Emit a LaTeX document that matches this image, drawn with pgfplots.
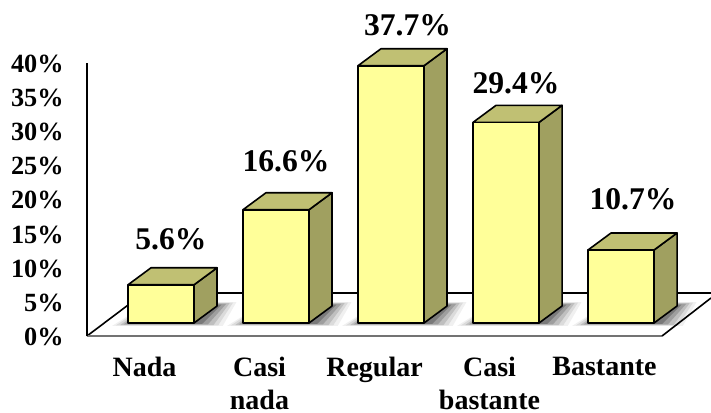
\documentclass[border=0pt]{standalone}
\usepackage{pgfplots}
\pgfplotsset{compat=1.18}
\usepackage{fontspec}
\setmainfont{Liberation Serif}
\definecolor{barfront}{HTML}{FFFF99}
\definecolor{bartop}{HTML}{C0C073}
\definecolor{barside}{HTML}{A0A060}
\pgfplotsset{barpart/.style={xshift=12.4pt,yshift=9.75pt,draw=black,line width=1.2pt,line join=round}}
\begin{document}
\begin{tikzpicture}
\path[use as bounding box] (-65.25pt,-57pt) rectangle (468pt,252pt);
\begin{axis}[
  scale only axis, width=468pt, height=204.75pt,
  xmin=-0.5, xmax=4.926, ymin=0, ymax=40,
  axis lines=left,
  axis line style={-,line width=1.4pt,black},
  x axis line style={draw=none},
  clip=false,
  major tick length=0pt,
  xtick={0,1,2,3,4},
  xticklabels={Nada,{Casi\\nada},Regular,{Casi\\bastante},Bastante},
  x tick label style={font=\fontsize{21pt}{25pt}\selectfont\bfseries,align=center,anchor=north,inner sep=0pt,yshift=-15.5pt},
  ytick={0,5,10,15,20,25,30,35,40},
  yticklabels={0\%,5\%,10\%,15\%,20\%,25\%,30\%,35\%,40\%},
  y tick label style={font=\fontsize{19.7pt}{22pt}\selectfont\bfseries,anchor=east,xshift=-14pt,yshift=-0.7pt},
]
% floor
\addplot[black,line width=1.2pt] coordinates {(-0.5,0) (-0.004,6.30) (4.926,6.30)};
\addplot[black!55,line width=1.6pt] coordinates {(-0.5,0) (4.5,0)};
\addplot[black,line width=1.4pt] coordinates {(-0.5,0) (-0.5,40)};
% shadows: nested polygons, light to dark
\pgfplotsinvokeforeach{0,1,2,3,4}{
  \addplot[draw=none,fill=black!6,forget plot] coordinates {({#1-0.283},1.47) ({#1+0.68},1.47) ({#1+0.80},4.98) ({#1+0.05},4.98)} -- cycle;
  \addplot[draw=none,fill=black!14,forget plot] coordinates {({#1-0.25},1.54) ({#1+0.64},1.54) ({#1+0.77},4.9) ({#1+0.05},4.9)} -- cycle;
  \addplot[draw=none,fill=black!25,forget plot] coordinates {({#1-0.21},1.61) ({#1+0.60},1.61) ({#1+0.74},4.8) ({#1+0.05},4.8)} -- cycle;
  \addplot[draw=none,fill=black!38,forget plot] coordinates {({#1-0.18},1.69) ({#1+0.55},1.69) ({#1+0.71},4.7) ({#1+0.05},4.7)} -- cycle;
  \addplot[draw=none,fill=black!52,forget plot] coordinates {({#1-0.15},1.76) ({#1+0.50},1.76) ({#1+0.67},4.6) ({#1+0.05},4.6)} -- cycle;
}
\addplot[black,line width=1.2pt] coordinates {(4.5,0) (4.926,5.57)};
% side faces
\addplot[barpart,fill=barside] coordinates {(0.287,0)(0.487,2.49)(0.487,8.09)(0.287,5.6)} -- cycle;
\addplot[barpart,fill=barside] coordinates {(1.287,0)(1.487,2.49)(1.487,19.09)(1.287,16.6)} -- cycle;
\addplot[barpart,fill=barside] coordinates {(2.287,0)(2.487,2.49)(2.487,40.19)(2.287,37.7)} -- cycle;
\addplot[barpart,fill=barside] coordinates {(3.287,0)(3.487,2.49)(3.487,31.89)(3.287,29.4)} -- cycle;
\addplot[barpart,fill=barside] coordinates {(4.287,0)(4.487,2.49)(4.487,13.19)(4.287,10.7)} -- cycle;
% top faces
\addplot[barpart,fill=bartop] coordinates {(-0.287,5.6)(0.287,5.6)(0.487,8.09)(-0.087,8.09)} -- cycle;
\addplot[barpart,fill=bartop] coordinates {(0.713,16.6)(1.287,16.6)(1.487,19.09)(0.913,19.09)} -- cycle;
\addplot[barpart,fill=bartop] coordinates {(1.713,37.7)(2.287,37.7)(2.487,40.19)(1.913,40.19)} -- cycle;
\addplot[barpart,fill=bartop] coordinates {(2.713,29.4)(3.287,29.4)(3.487,31.89)(2.913,31.89)} -- cycle;
\addplot[barpart,fill=bartop] coordinates {(3.713,10.7)(4.287,10.7)(4.487,13.19)(3.913,13.19)} -- cycle;
% front faces
\addplot[ybar,barpart,bar width=49.5pt,fill=barfront] coordinates {(0,5.6)(1,16.6)(2,37.7)(3,29.4)(4,10.7)};
% data labels
\node[font=\fontsize{23.7pt}{26pt}\selectfont\bfseries] at (axis cs:0.230,14.21) {5.6\%};
\node[font=\fontsize{23.7pt}{26pt}\selectfont\bfseries] at (axis cs:1.230,25.6) {16.6\%};
\node[font=\fontsize{23.7pt}{26pt}\selectfont\bfseries] at (axis cs:2.287,45.6) {37.7\%};
\node[font=\fontsize{23.7pt}{26pt}\selectfont\bfseries] at (axis cs:3.230,37.07) {29.4\%};
\node[font=\fontsize{23.7pt}{26pt}\selectfont\bfseries] at (axis cs:4.248,20.07) {10.7\%};
\end{axis}
\end{tikzpicture}
\end{document}
